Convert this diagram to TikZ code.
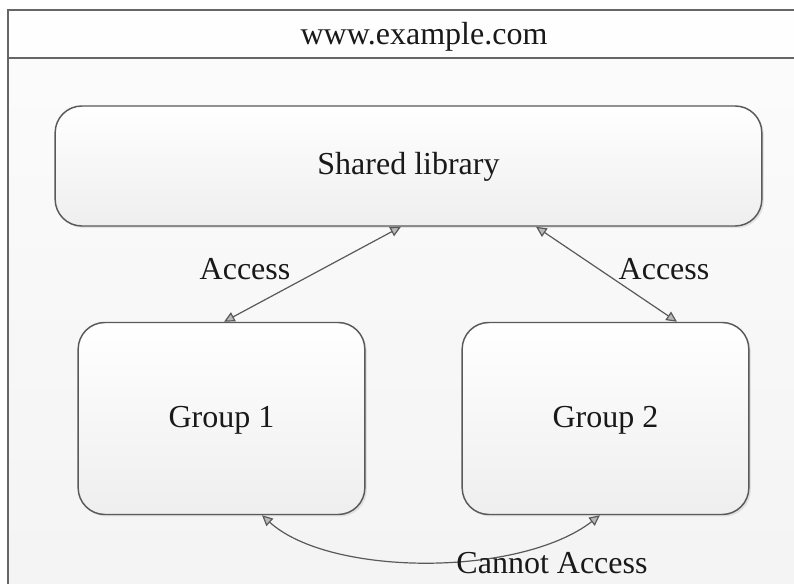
\documentclass[tikz,border=0pt]{standalone}
\usepackage{fontspec}
\setmainfont{Liberation Serif}
\usetikzlibrary{arrows.meta,shadows,calc}
\definecolor{edgegray}{HTML}{595959}
\definecolor{framegray}{HTML}{666666}
\tikzset{
  panel/.style={draw=edgegray, line width=1.1pt, rounded corners=20pt,
    top color=white, bottom color=gray!13,
    drop shadow={opacity=0.18, shadow xshift=1.5pt, shadow yshift=-1.5pt},
    font=\fontsize{24}{28}\selectfont, text=black!90,
    text height=17pt, text depth=4pt},
  caption/.style={font=\fontsize{24}{28}\selectfont, text=black!90, inner sep=0pt},
  tip/.tip={Triangle[open, fill=gray!55, length=8pt, width=7.5pt]},
  link/.style={draw=edgegray, line width=0.9pt, tip-tip},
}
\begin{document}
\begin{tikzpicture}[x=0.75pt, y=-0.75pt]
\useasboundingbox (0,0) rectangle (794,584);
% page background
\fill[white] (0,0) rectangle (794,584);
% site frame with its title bar
\shade[top color=gray!3, bottom color=gray!9] (8,58) rectangle (810,600);
\fill[gray!1] (8,10) rectangle (810,58);
\draw[framegray, line width=1.2pt] (810,10) -- (8,10) -- (8,600);
\draw[framegray, line width=1.2pt] (8,58) -- (810,58);
\node[caption, anchor=base] (site) at (424,45) {www.example.com};
% library and groups
\node[panel, minimum width=530pt, minimum height=90pt] (lib) at (408.5,166) {Shared library};
\node[panel, minimum width=215pt, minimum height=144pt] (g1) at (221.5,418.5) {Group 1};
\node[panel, minimum width=215pt, minimum height=144pt] (g2) at (605.5,418.5) {Group 2};
% access links
\draw[link] ($(lib.south)+(-7.5,0)$) -- ($(g1.north)+(2.5,0)$);
\draw[link] ($(lib.south)+(127.5,0)$) -- ($(g2.north)+(71.5,0)$);
\draw[link] ($(g1.south)+(40.5,0)$) .. controls (330,577) and (520,577) .. ($(g2.south)+(-5.5,0)$);
% labels
\node[caption, anchor=base] (acc1) at (245,280) {Access};
\node[caption, anchor=base] (acc2) at (664,280) {Access};
\node[caption, anchor=base] (noacc) at (552,574) {Cannot Access};
\end{tikzpicture}
\end{document}
